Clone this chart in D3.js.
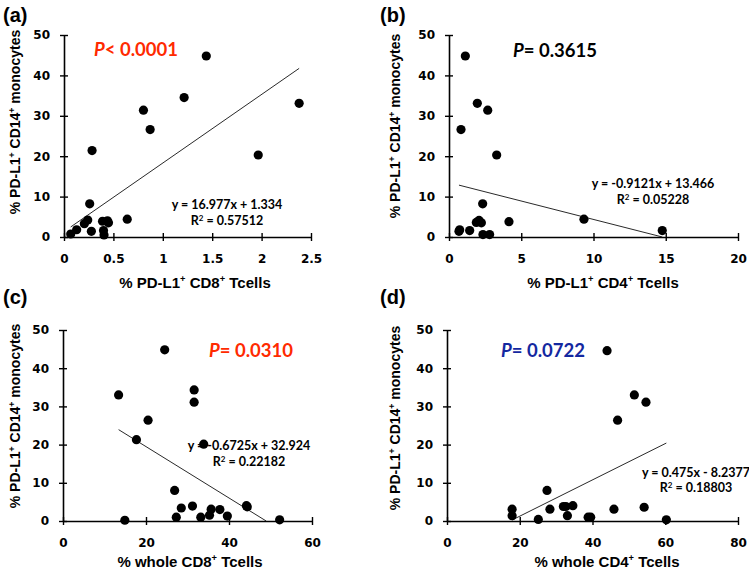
<!DOCTYPE html>
<html><head><meta charset="utf-8">
<script src="https://cdn.jsdelivr.net/npm/d3@7"></script>
<style>
html,body{margin:0;padding:0;background:#fff;}
svg{display:block;}
</style></head>
<body>
<script>
// ---- data ----
const yTicks = [0, 10, 20, 30, 40, 50];
const aTicks = [0, 0.5, 1, 1.5, 2, 2.5];
const bTicks = [0, 5, 10, 15, 20];
const cTicks = [0, 20, 40, 60];
const dTicks = [0, 20, 40, 60, 80];

const aX = [1.44, 1.216, 0.804, 0.872, 2.38, 1.966, 0.284, 0.26, 0.24, 0.206, 0.128, 0.068, 0.277, 0.39, 0.44, 0.45, 0.40, 0.405, 0.64];
const aY = [44.8, 34.5, 31.4, 26.6, 33.1, 20.3, 21.4, 8.2, 4.2, 3.3, 1.8, 0.74, 1.4, 3.9, 4.0, 3.5, 1.6, 0.5, 4.4];

const bX = [1.13, 1.96, 2.68, 0.83, 3.30, 2.33, 2.08, 1.89, 2.24, 4.15, 0.74, 1.43, 2.35, 2.81, 9.34, 14.76, 0.69];
const bY = [44.8, 33.1, 31.4, 26.6, 20.3, 8.2, 4.1, 3.6, 3.5, 3.8, 1.8, 1.6, 0.6, 0.6, 4.4, 1.6, 1.4];

const cX = [24.5, 13.4, 31.6, 31.6, 20.5, 17.7, 33.9, 26.9, 28.5, 31.2, 27.3, 33.2, 35.3, 35.7, 37.8, 39.6, 44.2, 44.4, 14.9, 52.2];
const cY = [44.8, 33.0, 34.3, 31.1, 26.4, 21.3, 20.1, 8.0, 3.4, 3.9, 1.0, 1.0, 1.5, 3.1, 3.0, 1.3, 4.0, 3.7, 0.2, 0.3];

const dX = [44.0, 51.5, 54.7, 46.9, 27.5, 17.9, 17.9, 28.3, 32.0, 32.7, 34.6, 33.1, 25.1, 38.8, 39.5, 45.9, 54.2, 60.3];
const dY = [44.6, 33.0, 31.1, 26.4, 8.0, 3.1, 1.4, 3.1, 3.8, 3.8, 4.0, 1.4, 0.4, 1.0, 1.0, 3.1, 3.6, 0.3];

const panelLetters = ["(a)", "(b)", "(c)", "(d)"];
const xTitles = [["% PD-L1", "+", " CD8", "+", " Tcells"], ["% PD-L1", "+", " CD4", "+", " Tcells"],
                 ["% whole CD8", "+", " Tcells"], ["% whole CD4", "+", " Tcells"]];
const yTitle = ["% PD-L1", "+", " CD14", "+", " monocytes"];
const slopes = [16.977, -0.9121, -0.6725, 0.475];
const intercepts = [1.334, 13.466, 32.924, -8.2377];
const eqTexts = ["y = 16.977x + 1.334", "y = -0.9121x + 13.466", "y = -0.6725x + 32.924", "y = 0.475x - 8.2377"];
const r2Texts = ["0.57512", "0.05228", "0.22182", "0.18803"];
const pTexts = ["< 0.0001", "= 0.3615", "= 0.0310", "= 0.0722"];
const pColors = ["#ff2a00", "#000000", "#ff2a00", "#1428a0"];

// ---- layout ----
const W = 749, H = 569;
const panels = [
  {x: aX, y: aY, ticks: aTicks, dom: [0, 2.5], xr: [64, 311], yr: [237, 35], fmt: d => d,
   letter: [3, 22], ylab: [15, 122], xlab: [195, 288], p: [94, 56], eq: [227, 209, 225]},
  {x: bX, y: bY, ticks: bTicks, dom: [0, 20], xr: [449, 738], yr: [237, 35], fmt: d => d,
   letter: [380, 22], ylab: [395, 126], xlab: [603, 288], p: [513, 57], eq: [653, 188, 204]},
  {x: cX, y: cY, ticks: cTicks, dom: [0, 60], xr: [63, 312], yr: [521, 330], fmt: d => d,
   letter: [3, 304], ylab: [15, 416], xlab: [190, 567], p: [209, 357], eq: [249, 450, 466]},
  {x: dX, y: dY, ticks: dTicks, dom: [0, 80], xr: [447, 738], yr: [521, 330], fmt: d => d,
   letter: [380, 304], ylab: [395, 418], xlab: [607, 567], p: [501, 357], eq: [696, 477, 492]}
];

const svg = d3.select("body").append("svg").attr("width", W).attr("height", H);
const titleFont = "'Liberation Sans', Arial, sans-serif";

function addSup(textSel, parts, size) {
  parts.forEach((t, i) => {
    const sup = (t === "+");
    textSel.append("tspan")
      .attr("font-size", sup ? size * 0.62 : size)
      .attr("dy", sup ? -size * 0.38 : (i > 0 && parts[i - 1] === "+" ? size * 0.38 : 0))
      .text(sup ? "+" : t);
  });
}

panels.forEach((P, i) => {
  const x = d3.scaleLinear().domain(P.dom).range(P.xr);
  const y = d3.scaleLinear().domain([0, 50]).range(P.yr);
  const g = svg.append("g");

  // y axis
  const ya = g.append("g").attr("transform", `translate(${P.xr[0]},0)`)
    .call(d3.axisLeft(y).tickValues(yTicks).tickSizeOuter(0).tickSizeInner(4).tickPadding(10));
  ya.selectAll(".tick line").attr("x1", 4).attr("x2", -4);
  // x axis
  const xa = g.append("g").attr("transform", `translate(0,${P.yr[0]})`)
    .call(d3.axisBottom(x).tickValues(P.ticks).tickFormat(P.fmt).tickSizeOuter(0).tickSizeInner(4).tickPadding(13));
  xa.selectAll(".tick line").attr("y1", -4).attr("y2", 4);
  [ya, xa].forEach(a => {
    a.select(".domain").attr("stroke", "#000").attr("stroke-width", 1.6);
    a.selectAll(".tick line").attr("stroke", "#000").attr("stroke-width", 1.4);
    a.selectAll(".tick text").attr("font-family", "'DejaVu Sans', Verdana, sans-serif")
      .attr("font-weight", "bold").attr("font-size", 12).attr("fill", "#000");
  });

  // regression line
  const xs = P.x;
  let x0 = d3.min(xs), x1 = d3.max(xs);
  const m = slopes[i], b = intercepts[i];
  const f = v => m * v + b;
  if (f(x0) < 0) x0 = -b / m;
  if (f(x1) < 0) x1 = -b / m;
  g.append("line")
    .attr("x1", x(x0)).attr("y1", y(f(x0)))
    .attr("x2", x(x1)).attr("y2", y(f(x1)))
    .attr("stroke", "#111").attr("stroke-width", 0.9);

  // points
  g.selectAll("circle.pt").data(d3.range(xs.length)).join("circle")
    .attr("class", "pt")
    .attr("cx", k => x(P.x[k])).attr("cy", k => y(P.y[k]))
    .attr("r", 4.6).attr("fill", "#000");

  // panel letter
  g.append("text").attr("x", P.letter[0]).attr("y", P.letter[1])
    .attr("font-family", titleFont).attr("font-weight", "bold").attr("font-size", 20)
    .text(panelLetters[i]);

  // y title
  const yt = g.append("text")
    .attr("transform", `translate(${P.ylab[0] + 5},${P.ylab[1]}) rotate(-90)`)
    .attr("text-anchor", "middle")
    .attr("font-family", titleFont).attr("font-weight", "bold");
  addSup(yt, yTitle, 14);

  // x title
  const xt = g.append("text").attr("x", P.xlab[0]).attr("y", P.xlab[1])
    .attr("text-anchor", "middle")
    .attr("font-family", titleFont).attr("font-weight", "bold");
  addSup(xt, xTitles[i], 15);

  // P value
  const pt = g.append("text").attr("x", P.p[0]).attr("y", P.p[1])
    .attr("font-family", "Lato, sans-serif").attr("font-weight", "bold").attr("font-size", 18.5)
    .attr("fill", pColors[i]);
  pt.append("tspan").attr("font-style", "italic").text("P");
  pt.append("tspan").text(pTexts[i]);

  // equation
  g.append("text").attr("x", P.eq[0]).attr("y", P.eq[1]).attr("text-anchor", "middle")
    .attr("font-family", "Lato, sans-serif").attr("font-weight", "bold").attr("font-size", 12.5)
    .text(eqTexts[i]);
  const r2 = g.append("text").attr("x", P.eq[0]).attr("y", P.eq[2]).attr("text-anchor", "middle")
    .attr("font-family", "Lato, sans-serif").attr("font-weight", "bold").attr("font-size", 12.5);
  r2.append("tspan").text("R");
  r2.append("tspan").attr("font-size", 8).attr("dy", -4.5).text("2");
  r2.append("tspan").attr("dy", 4.5).text(" = " + r2Texts[i]);
});
</script>
</body></html>
